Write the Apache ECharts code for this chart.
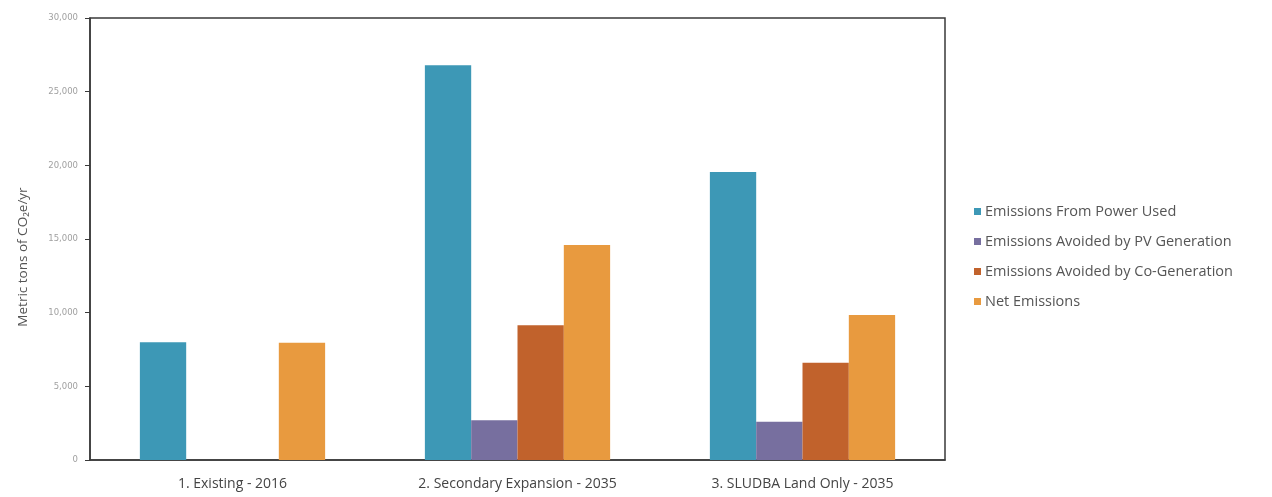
<!DOCTYPE html>
<html>
<head>
<meta charset="utf-8">
<script src="https://cdn.jsdelivr.net/npm/echarts@6/dist/echarts.min.js"></script>
<style>
  html, body { margin: 0; padding: 0; background: #ffffff; }
  #chart { width: 1272px; height: 497px; }
</style>
</head>
<body>
<div id="chart"></div>
<script>
// Scenario categories along the x axis
const categories = ['1. Existing - 2016', '2. Secondary Expansion - 2035', '3. SLUDBA Land Only - 2035'];

// Metric tons of CO2e per year for each scenario
const powerUsed = [8000, 26800, 19550];
const avoidedPV = [0, 2700, 2600];
const avoidedCoGen = [0, 9150, 6600];
const netEmissions = [7950, 14600, 9850];

const seriesNames = [
  'Emissions From Power Used',
  'Emissions Avoided by PV Generation',
  'Emissions Avoided by Co-Generation',
  'Net Emissions'
];
const seriesColors = ['#3d98b6', '#776f9f', '#c1622c', '#e89a3f'];
const seriesValues = [powerUsed, avoidedPV, avoidedCoGen, netEmissions];

// Y axis range and step
const yMin = 0;
const yMax = 30000;
const yStep = 5000;

const chart = echarts.init(document.getElementById('chart'), null, { renderer: 'canvas' });

chart.setOption({
  backgroundColor: '#ffffff',
  animation: false,
  grid: {
    left: 90,
    right: 327,
    top: 18,
    bottom: 37,
    show: true,
    borderColor: '#3a3a3a',
    borderWidth: 1.5,
    backgroundColor: 'transparent'
  },
  legend: {
    orient: 'vertical',
    left: 969,
    top: 199,
    itemGap: 15,
    itemWidth: 7,
    itemHeight: 7,
    icon: 'rect',
    textStyle: {
      fontFamily: 'Open Sans, Noto Sans, sans-serif',
      fontSize: 14.5,
      color: '#555555',
      padding: [0, 0, 0, -1]
    },
    data: seriesNames
  },
  xAxis: {
    type: 'category',
    data: categories,
    axisLine: { show: true, lineStyle: { color: '#3a3a3a', width: 1.5 } },
    axisTick: { show: false },
    axisLabel: {
      margin: 17,
      fontFamily: 'Open Sans, Noto Sans, sans-serif',
      fontSize: 14,
      color: '#444444'
    },
    splitLine: { show: false }
  },
  yAxis: {
    type: 'value',
    min: yMin,
    max: yMax,
    interval: yStep,
    name: 'Metric tons of CO\u2082e/yr',
    nameLocation: 'middle',
    nameGap: 60,
    nameRotate: 90,
    nameTextStyle: {
      fontFamily: 'Open Sans, Noto Sans, sans-serif',
      fontSize: 13.5,
      color: '#555555',
      padding: [0, 36, 0, 0]
    },
    axisLine: { show: true, lineStyle: { color: '#3a3a3a', width: 1.5 } },
    axisTick: { show: true, inside: false, length: 5, lineStyle: { color: '#3a3a3a' } },
    axisLabel: {
      margin: 12,
      fontFamily: 'DejaVu Sans, sans-serif',
      fontSize: 8.5,
      color: '#a0a0a0',
      formatter: function (v) { return v.toLocaleString('en-US'); }
    },
    splitLine: { show: false }
  },
  series: seriesNames.map(function (name, i) {
    return {
      name: name,
      type: 'bar',
      data: seriesValues[i],
      barGap: '0%',
      barCategoryGap: '35%',
      itemStyle: { color: seriesColors[i] }
    };
  })
});
</script>
</body>
</html>
